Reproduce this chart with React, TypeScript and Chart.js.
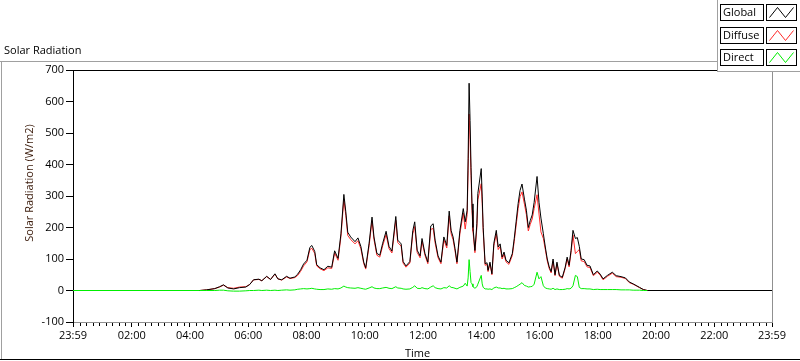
import React, { useEffect, useRef } from 'react';
import { Chart, registerables } from 'chart.js';
Chart.register(...registerables);

// Time of each sample, minutes after midnight (-1 = 23:59 of the day before)
const timesMin = [
  -1, 260, 274, 291, 301, 309, 318, 330, 342, 355, 363, 371, 382, 388, 398, 406, 415, 421, 429, 439,
  446, 456, 462, 468, 474, 481, 487, 491, 497, 501, 508, 516, 524, 532, 538, 545, 551, 557, 561, 565,
  571, 580, 586, 592, 598, 602, 609, 615, 619, 625, 631, 637, 644, 650, 656, 664, 668, 675, 679, 685,
  693, 699, 703, 708, 714, 718, 724, 730, 736, 741, 745, 751, 757, 763, 769, 774, 778, 782, 786, 790,
  796, 803, 807, 811, 813, 815, 817, 819, 821, 823, 827, 831, 833, 840, 842, 844, 848, 852, 854, 858,
  862, 866, 871, 875, 879, 883, 887, 891, 897, 904, 908, 912, 916, 920, 924, 929, 933, 937, 941, 945,
  949, 955, 959, 963, 968, 972, 976, 980, 984, 988, 992, 996, 1001, 1007, 1013, 1017, 1021, 1025, 1029, 1034,
  1038, 1042, 1046, 1052, 1058, 1064, 1071, 1079, 1085, 1091, 1100, 1110, 1118, 1128, 1137, 1145, 1153, 1159, 1166, 1174,
  1182, 1439,
];

const globalVals = [
  0, 0, 2, 6, 12, 18, 8, 5, 9, 11, 19, 34, 36, 31, 45, 35, 53, 37, 34, 45,
  39, 43, 52, 66, 84, 96, 137, 143, 124, 82, 72, 66, 77, 74, 126, 102, 180, 305, 250, 185,
  170, 155, 167, 140, 90, 72, 150, 233, 170, 118, 112, 150, 188, 140, 125, 235, 160, 148, 92, 78,
  92, 190, 218, 128, 110, 165, 118, 90, 205, 212, 160, 110, 90, 170, 143, 252, 190, 170, 133, 90,
  190, 260, 218, 255, 420, 658, 540, 390, 275, 200, 127, 212, 308, 387, 297, 200, 85, 88, 64, 90,
  53, 150, 191, 138, 148, 106, 122, 96, 88, 117, 165, 220, 276, 318, 338, 290, 255, 200, 222, 240,
  280, 362, 280, 230, 180, 138, 100, 75, 60, 100, 50, 90, 48, 42, 74, 106, 80, 127, 191, 165,
  168, 140, 100, 98, 80, 78, 50, 62, 52, 37, 48, 58, 47, 44, 40, 27, 21, 16, 10, 3,
  0, 0,
];

const diffuseVals = [
  0, 0, 2, 6, 11, 17, 9, 7, 11, 12, 19, 34, 35, 31, 44, 35, 52, 37, 33, 43,
  38, 41, 48, 61, 78, 91, 130, 134, 118, 78, 69, 63, 72, 70, 119, 96, 171, 290, 238, 175,
  162, 148, 158, 133, 85, 68, 142, 222, 162, 112, 106, 142, 178, 133, 119, 223, 152, 141, 87, 74,
  87, 180, 203, 121, 104, 156, 112, 85, 194, 197, 151, 104, 85, 161, 135, 237, 180, 161, 126, 85,
  180, 246, 195, 241, 380, 560, 480, 365, 254, 188, 120, 200, 288, 339, 276, 190, 80, 83, 60, 85,
  50, 142, 180, 130, 140, 100, 115, 91, 83, 111, 156, 208, 260, 298, 313, 274, 241, 189, 210, 227,
  260, 304, 243, 186, 165, 130, 94, 70, 56, 93, 47, 85, 45, 39, 70, 100, 75, 120, 176, 117,
  124, 130, 94, 92, 75, 73, 47, 58, 49, 34, 45, 55, 44, 42, 38, 25, 20, 15, 9, 3,
  0, 0,
];

const directVals = [
  0, 0, 0, 0, 1, 1, -1, -2, -2, -1, 0, 0, 1, 0, 1, 0, 1, 0, 1, 2,
  1, 2, 4, 5, 6, 5, 6, 7, 5, 4, 3, 3, 5, 4, 6, 5, 8, 14, 11, 9,
  8, 7, 9, 7, 5, 4, 8, 12, 8, 6, 6, 8, 10, 7, 6, 12, 8, 7, 5, 4,
  5, 10, 15, 7, 6, 9, 6, 5, 11, 15, 9, 6, 5, 9, 8, 15, 10, 9, 7, 5,
  10, 14, 23, 14, 40, 98, 60, 25, 21, 12, 7, 12, 20, 48, 21, 10, 5, 5, 4, 5,
  3, 8, 11, 8, 8, 6, 7, 5, 5, 6, 9, 12, 16, 20, 25, 16, 14, 11, 12, 13,
  20, 58, 37, 44, 15, 8, 6, 5, 4, 7, 3, 5, 3, 3, 4, 6, 5, 7, 15, 48,
  44, 10, 6, 6, 5, 5, 3, 4, 3, 3, 3, 3, 3, 2, 2, 2, 1, 1, 1, 0,
  0, null,
];

const yTickValues = [-100, 0, 100, 200, 300, 400, 500, 600, 700];
const xTickValues = [-1, 120, 240, 360, 480, 600, 720, 840, 960, 1080, 1200, 1320, 1439];
const xTickLabels = ['23:59', '02:00', '04:00', '06:00', '08:00', '10:00', '12:00', '14:00', '16:00', '18:00', '20:00', '22:00', '23:59'];
const seriesNames = ['Global', 'Diffuse', 'Direct'];
const seriesColors = ['#000000', '#ff2a2a', '#00ee00'];

const FONT = '"Open Sans", "Noto Sans", sans-serif';

export default function App() {
  const ref = useRef<HTMLCanvasElement>(null);

  useEffect(() => {
    const canvas = ref.current;
    if (!canvas) return;
    const pts = (vals: (number | null)[]) => timesMin.map((t, i) => ({ x: t, y: vals[i] }));

    const decor = {
      id: 'decor',
      afterDraw(chart: any) {
        const c = chart.ctx as CanvasRenderingContext2D;
        const a = chart.chartArea;
        const xs = chart.scales.x;
        c.save();
        c.lineWidth = 1;
        // outer frame
        c.strokeStyle = '#a0a0a0';
        c.beginPath();
        c.moveTo(0, 61.5); c.lineTo(800, 61.5);
        c.moveTo(1.5, 61); c.lineTo(1.5, 360);
        c.stroke();
        c.strokeStyle = '#000';
        c.beginPath();
        c.moveTo(0, 359.5); c.lineTo(800, 359.5);
        c.stroke();
        // plot top border (black) and right border (gray)
        c.beginPath();
        c.moveTo(a.left, Math.round(a.top) + 0.5); c.lineTo(a.right + 1, Math.round(a.top) + 0.5);
        c.stroke();
        c.strokeStyle = '#909090';
        c.beginPath();
        c.moveTo(Math.round(a.right) + 0.5, a.top); c.lineTo(Math.round(a.right) + 0.5, a.bottom + 1);
        c.stroke();
        // minor ticks on x axis
        c.strokeStyle = '#000';
        c.beginPath();
        for (let i = 0; i < xTickValues.length - 1; i++) {
          const v0 = xTickValues[i], v1 = xTickValues[i + 1];
          for (let k = 1; k < 9; k++) {
            const px = Math.round(xs.getPixelForValue(v0 + (v1 - v0) * k / 9)) + 0.5;
            c.moveTo(px, Math.round(a.bottom) + 1);
            c.lineTo(px, Math.round(a.bottom) + 4);
          }
        }
        c.stroke();
        // titles
        c.fillStyle = '#000';
        c.font = `11px ${FONT}`;
        c.textBaseline = 'middle';
        c.textAlign = 'left';
        c.fillText('Solar Radiation', 4, 51);
        c.textAlign = 'center';
        c.fillText('Time', (a.left + a.right) / 2 - 5, 354);
        c.save();
        c.translate(30, 183);
        c.rotate(-Math.PI / 2);
        c.fillStyle = '#3a1a0a';
        c.fillText('Solar Radiation (W/m2)', 0, 0);
        c.restore();
        // legend panel
        c.fillStyle = '#fff';
        c.fillRect(717, 0, 83, 71);
        c.strokeStyle = '#a0a0a0';
        c.beginPath();
        c.moveTo(717.5, 0); c.lineTo(717.5, 72);
        c.moveTo(717, 71.5); c.lineTo(800, 71.5);
        c.stroke();
        const tops = [4, 27, 49];
        seriesNames.forEach((name, i) => {
          const t = tops[i];
          c.strokeStyle = '#000';
          c.strokeRect(720.5, t + 0.5, 43, 16);
          c.strokeRect(766.5, t + 0.5, 30, 16);
          c.fillStyle = '#000';
          c.textAlign = 'left';
          c.textBaseline = 'middle';
          c.font = `11px ${FONT}`;
          c.fillText(name, 723, t + 9);
          c.strokeStyle = seriesColors[i];
          c.beginPath();
          c.moveTo(769.5, t + 13.5);
          c.lineTo(777.5, t + 3.5);
          c.lineTo(785.5, t + 13.5);
          c.lineTo(793.5, t + 3.5);
          c.stroke();
        });
        c.restore();
      },
    };

    const chart = new Chart(canvas, {
      type: 'line',
      data: {
        datasets: [
          { label: 'Direct', data: pts(directVals), borderColor: seriesColors[2], borderWidth: 1, pointRadius: 0, spanGaps: false, tension: 0 },
          { label: 'Global', data: pts(globalVals), borderColor: seriesColors[0], borderWidth: 1, pointRadius: 0, tension: 0 },
          { label: 'Diffuse', data: pts(diffuseVals), borderColor: seriesColors[1], borderWidth: 1, pointRadius: 0, tension: 0 },
        ],
      },
      options: {
        animation: false,
        responsive: false,
        devicePixelRatio: 1,
        layout: { padding: { top: 70, right: 28, left: 0, bottom: 0 } },
        plugins: { legend: { display: false }, tooltip: { enabled: false } },
        scales: {
          x: {
            type: 'linear',
            min: -1,
            max: 1439,
            afterFit: (s: any) => { s.height = 39; },
            afterBuildTicks: (s: any) => { s.ticks = xTickValues.map((v) => ({ value: v })); },
            ticks: {
              autoSkip: false,
              maxRotation: 0,
              color: '#000',
              padding: 2,
              font: { family: FONT, size: 11 },
              callback: (_v: any, i: number) => xTickLabels[i],
            },
            grid: { drawOnChartArea: false, drawTicks: true, tickLength: 5, tickColor: '#000' },
            border: { display: true, color: '#909090', width: 1 },
          },
          y: {
            min: -100,
            max: 700,
            afterFit: (s: any) => { s.width = 73; },
            afterBuildTicks: (s: any) => { s.ticks = yTickValues.map((v) => ({ value: v })); },
            ticks: {
              color: '#000',
              padding: 2,
              font: { family: FONT, size: 11 },
            },
            grid: { drawOnChartArea: false, drawTicks: true, tickLength: 7, tickColor: '#000' },
            border: { display: true, color: '#000', width: 1 },
          },
        },
      },
      plugins: [decor],
    } as any);

    return () => chart.destroy();
  }, []);

  return (
    <div style={{ position: 'absolute', left: 0, top: 0, width: 800, height: 361, background: '#fff' }}>
      <canvas ref={ref} width={800} height={361} style={{ display: 'block' }} />
    </div>
  );
}
